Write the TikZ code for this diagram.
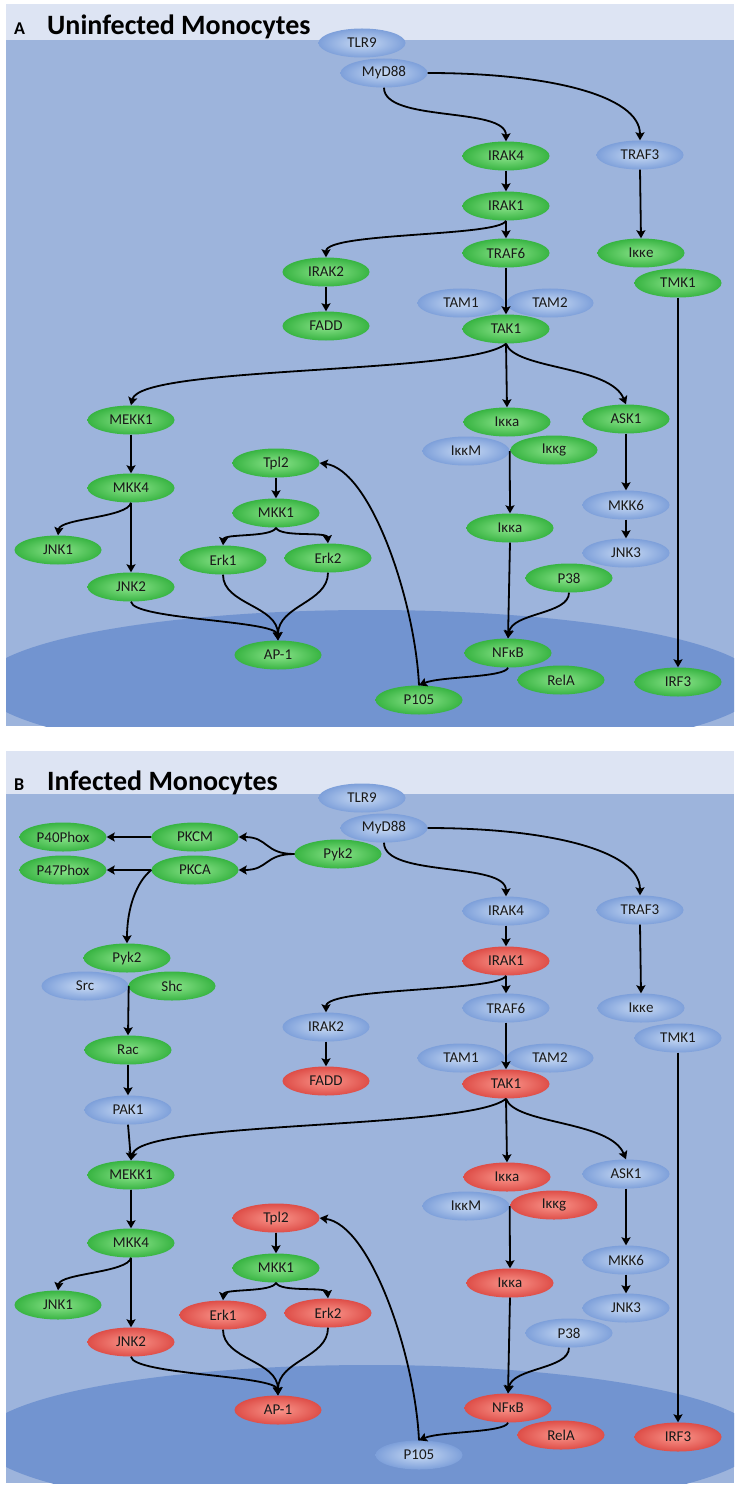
\documentclass[tikz,border=0pt]{standalone}
\usepackage{fontspec}
\setmainfont{Carlito}
\usetikzlibrary{shapes.geometric,arrows.meta}
\definecolor{hdr}{RGB}{221,228,243}
\definecolor{cyt}{RGB}{157,180,220}
\definecolor{nuc}{RGB}{114,148,208}
\definecolor{gin}{RGB}{140,228,140}
\definecolor{gout}{RGB}{56,180,66}
\definecolor{bin}{RGB}{200,218,244}
\definecolor{bout}{RGB}{126,160,218}
\definecolor{rin}{RGB}{250,150,140}
\definecolor{rout}{RGB}{222,78,72}
\begin{document}
\begin{tikzpicture}[x=1pt,y=-1pt,
  prot/.style={ellipse,minimum width=87pt,minimum height=29pt,inner sep=0pt,font=\fontsize{15}{15}\selectfont,text=black!90},
  gn/.style={prot,inner color=gin,outer color=gout},
  bl/.style={prot,inner color=bin,outer color=bout},
  rd/.style={prot,inner color=rin,outer color=rout},
  arr/.style={line width=1.8pt,-{Stealth[length=8pt,width=9pt,inset=1.5pt]}},
  ln/.style={line width=1.8pt},
  ttl/.style={anchor=base west,inner sep=0pt,font=\fontsize{28}{28}\selectfont\bfseries},
  ltr/.style={anchor=base west,inner sep=0pt,font=\fontsize{18}{18}\selectfont\bfseries}]
\fill[white] (0,0) rectangle (736,1487);
\useasboundingbox (0,0) rectangle (736,1487);
% ---------------- Panel A ----------------
\fill[hdr] (6,4) rectangle (734,40);
\fill[cyt] (6,40) rectangle (734,726);
\begin{scope}
\clip (6,40) rectangle (734,726);
\fill[nuc] (370,685) ellipse [x radius=390,y radius=75];
\end{scope}
\node[ltr] (la) at (14,35) {A};
\node[ttl] (tia) at (47,35) {Uninfected Monocytes};
\foreach \nm/\xx/\yy/\lab/\sty in {
tlr9/362/43/TLR9/bl,
myd/384/73/MyD88/bl,
irak4/506/156/IRAK4/gn,
traf3/640/155/TRAF3/bl,
irak1/506/206/IRAK1/gn,
traf6/506/253/TRAF6/gn,
ikke/641/253/Iκκe/gn,
tmk1/678/283/TMK1/gn,
irak2/326/272/IRAK2/gn,
fadd/326/326/FADD/gn,
tam1/461/303/TAM1/bl,
tam2/550/303/TAM2/bl,
tak1/506/329/TAK1/gn,
mekk1/131/420/MEKK1/gn,
ikka1/507/422/Iκκa/gn,
ask1/626/419/ASK1/gn,
ikkm/466/451/IκκM/bl,
ikkg/554/450/Iκκg/gn,
tpl2/276/463/Tpl2/gn,
mkk4/131/488/MKK4/gn,
mkk6/626/505/MKK6/bl,
mkk1/276/513/MKK1/gn,
ikka2/510/528/Iκκa/gn,
jnk1/58/550/JNK1/gn,
erk1/223/560/Erk1/gn,
erk2/328/558/Erk2/gn,
jnk3/626/553/JNK3/bl,
p38/569/578/P38/gn,
jnk2/131/587/JNK2/gn,
ap1/278/655/AP-1/gn,
nfkb/508/653/NFκB/gn,
rela/561/680/RelA/gn,
irf3/678/682/IRF3/gn,
p105/419/700/P105/gn}
  \node[\sty] (a\nm) at (\xx,\yy) {\lab};
% ---------------- Panel B ----------------
\begin{scope}[yshift=-755pt]
\fill[hdr] (6,-4) rectangle (734,39);
\fill[cyt] (6,39) rectangle (734,728);
\begin{scope}
\clip (6,39) rectangle (734,728);
\fill[nuc] (370,685) ellipse [x radius=390,y radius=75];
\end{scope}
\node[ltr] (lb) at (14,35) {B};
\node[ttl] (tib) at (47,35) {Infected Monocytes};
\foreach \nm/\xx/\yy/\lab/\sty in {
p40/63/82/P40Phox/gn,
pkcm/195/82/PKCM/gn,
p47/63/115/P47Phox/gn,
pkca/195/115/PKCA/gn,
pyka/338/99/Pyk2/gn,
pykb/127/203/Pyk2/gn,
src/85/231/Src/bl,
shc/172/231/Shc/gn,
rac/128/295/Rac/gn,
pak1/128/355/PAK1/bl,
tlr9/362/43/TLR9/bl,
myd/384/73/MyD88/bl,
irak4/506/156/IRAK4/bl,
traf3/640/155/TRAF3/bl,
irak1/506/206/IRAK1/rd,
traf6/506/253/TRAF6/bl,
ikke/641/253/Iκκe/bl,
tmk1/678/283/TMK1/bl,
irak2/326/272/IRAK2/bl,
fadd/326/326/FADD/rd,
tam1/461/303/TAM1/bl,
tam2/550/303/TAM2/bl,
tak1/506/329/TAK1/rd,
mekk1/131/420/MEKK1/gn,
ikka1/507/422/Iκκa/rd,
ask1/626/419/ASK1/bl,
ikkm/466/451/IκκM/bl,
ikkg/554/450/Iκκg/rd,
tpl2/276/463/Tpl2/rd,
mkk4/131/488/MKK4/gn,
mkk6/626/505/MKK6/bl,
mkk1/276/513/MKK1/gn,
ikka2/510/528/Iκκa/rd,
jnk1/58/550/JNK1/gn,
erk1/223/560/Erk1/rd,
erk2/328/558/Erk2/rd,
jnk3/626/553/JNK3/bl,
p38/569/578/P38/bl,
jnk2/131/587/JNK2/rd,
ap1/278/655/AP-1/rd,
nfkb/508/653/NFκB/rd,
rela/561/680/RelA/rd,
irf3/678/682/IRF3/rd,
p105/419/700/P105/bl}
  \node[\sty] (b\nm) at (\xx,\yy) {\lab};
\end{scope}
% ---------------- common connectors ----------------
\foreach \p in {a,b}{
  \draw[arr] (\p irak4.south) -- (\p irak1.north);
  \draw[arr] (\p irak1.south) -- (\p traf6.north);
  \draw[arr] (\p traf6.south) -- (\p tak1.north);
  \draw[arr] (\p traf3.south) -- (\p ikke.north);
  \draw[arr] (\p tmk1.south) -- (\p irf3.north);
  \draw[arr] (\p irak2.south) -- (\p fadd.north);
  \draw[arr] (\p tak1.south) -- (\p ikka1.north);
  \draw[arr] (\p ask1.south) -- (\p mkk6.north);
  \draw[arr] (\p mkk6.south) -- (\p jnk3.north);
  \draw[arr] (\p ikkm.east) -- (\p ikka2.north);
  \draw[arr] (\p ikka2.south) -- (\p nfkb.north);
  \draw[arr] (\p tpl2.south) -- (\p mkk1.north);
  \draw[arr] (\p mekk1.south) -- (\p mkk4.north);
  \draw[arr] (\p mkk4.south) -- (\p jnk2.north);
  \draw[arr] (\p myd.south) .. controls +(0,35) and +(0,-35) .. (\p irak4.north);
  \draw[arr] (\p myd.east) .. controls +(120,0) and +(0,-45) .. (\p traf3.north);
  \draw[arr] (\p irak1.south) .. controls +(-6,16) and +(0,-25) .. (\p irak2.north);
  \draw[arr] (\p tak1.south) .. controls +(-36,31) and +(9,-40) .. (\p mekk1.north);
  \draw[arr] (\p tak1.south) .. controls +(9,26) and +(-16,-39) .. (\p ask1.north);
  \draw[arr] (\p mkk4.south) .. controls +(-3,15) and +(2,-17) .. (\p jnk1.north);
  \draw[arr] (\p mkk1.south) .. controls +(-4,10) and +(1,-12) .. (\p erk1.north);
  \draw[arr] (\p mkk1.south) .. controls +(4,10) and +(-1,-12) .. (\p erk2.north);
  \draw[arr] (\p erk1.south) .. controls +(0,30) and +(0,-35) .. (\p ap1.north);
  \draw[arr] (\p erk2.south) .. controls +(0,30) and +(0,-35) .. (\p ap1.north);
  \draw[arr] (\p jnk2.south) .. controls +(2,18) and +(-2,-20) .. (\p ap1.north);
  \draw[arr] (\p p38.south) .. controls +(0,22) and +(4,-26) .. (\p nfkb.north);
  \draw[arr] (\p nfkb.south) .. controls +(-3,10) and +(21,-9) .. (\p p105.north);
  \draw[arr] (\p p105.north) .. controls +(-4,-85) and +(51,7) .. (\p tpl2.east);
}
% ---------------- panel B extra connectors ----------------
\draw[arr] (bpyka.west) .. controls +(-30,0) and +(30,0) .. (bpkcm.east);
\draw[arr] (bpyka.west) .. controls +(-30,0) and +(30,0) .. (bpkca.east);
\draw[arr] (bpkcm.west) -- (bp40.east);
\draw[arr] (bpkca.west) -- (bp47.east);
\draw[arr] (bpkca.west) .. controls +(-15,12) and +(0,-35) .. (bpykb.north);
\draw[arr] (bsrc.east) -- (brac.north);
\draw[arr] (brac.south) -- (bpak1.north);
\draw[arr] (bpak1.south) -- (bmekk1.north);
\end{tikzpicture}
\end{document}
